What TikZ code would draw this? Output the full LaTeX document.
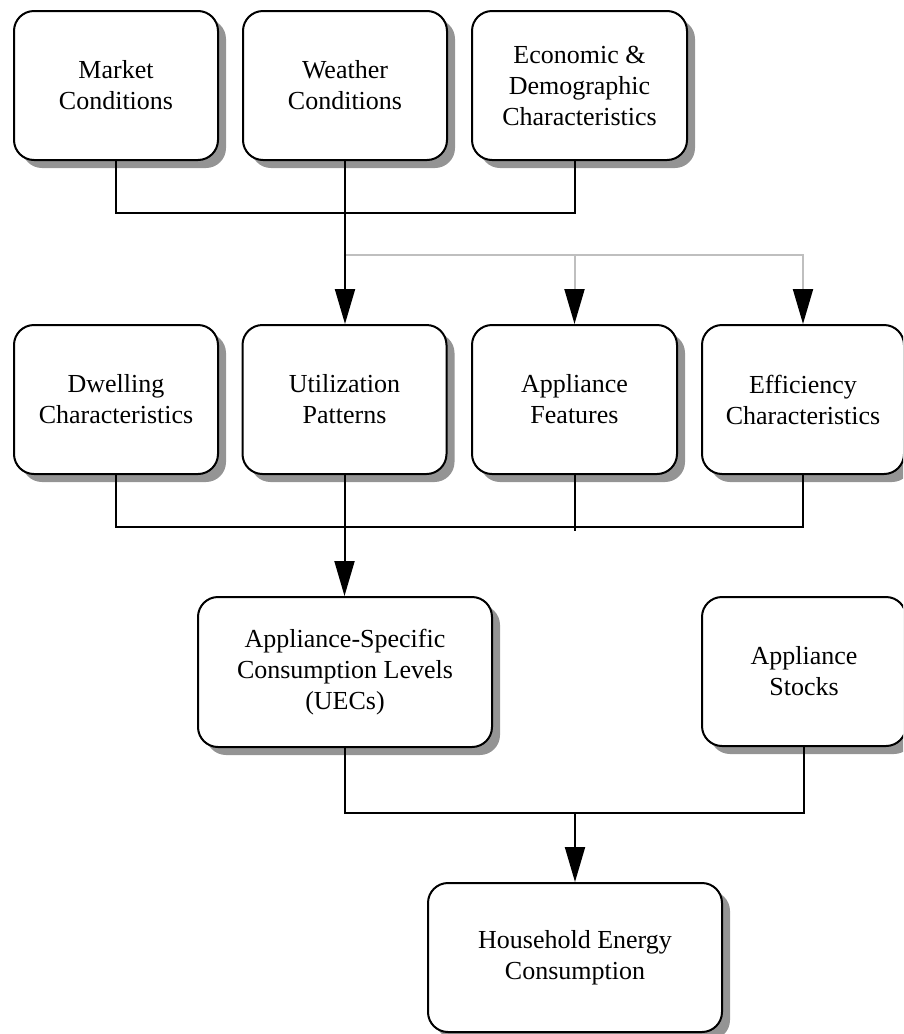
\documentclass[tikz,border=0pt]{standalone}
\usepackage{fontspec}
\setmainfont{Liberation Serif}
\usetikzlibrary{arrows.meta,shadows}

\begin{document}
\begin{tikzpicture}[x=1pt,y=-1pt,
	box/.style={draw,line width=2pt,rounded corners=20pt,fill=white,align=center,
		font=\fontsize{26}{31}\selectfont,minimum height=149pt,
		drop shadow={shadow xshift=8pt,shadow yshift=-8pt,fill=black!42,opacity=1}},
	link/.style={line width=2pt},
	tip/.style={link,-{Triangle[length=35pt,width=20pt,color=black]}},
	greytip/.style={tip,draw=black!25}]
	\clip (0,0) rectangle (903,1034);
	% top row
	\node[box,minimum width=204pt] (market) at (116,85.5) {Market\\Conditions};
	\node[box,minimum width=204pt] (weather) at (345,85.5) {Weather\\Conditions};
	\node[box,minimum width=215pt] (econ) at (579.5,85.5) {Economic \&\\Demographic\\Characteristics};
	% second row
	\node[box,minimum width=204pt] (dwell) at (116,399.5) {Dwelling\\Characteristics};
	\node[box,minimum width=204pt] (util) at (344.5,399.5) {Utilization\\Patterns};
	\node[box,minimum width=205pt] (feat) at (574.5,399.5) {Appliance\\Features};
	\node[box,minimum width=202pt] (eff) at (803,399.5) {Efficiency\\Characteristics};
	% third row
	\node[box,minimum width=294pt,minimum height=150pt] (uec) at (345,672) {Appliance-Specific\\Consumption Levels\\(UECs)};
	\node[box,minimum width=204pt] (stocks) at (804,671.5) {Appliance\\Stocks};
	% result
	\node[box,minimum width=294pt] (house) at (575,957.5) {Household Energy\\Consumption};

	\coordinate (hub1) at (345,213);
	\coordinate (split) at (345,255);
	\coordinate (hub2) at (345,527);
	\coordinate (hub3) at (345,813);

	\draw[link] (market.south) |- (hub1) -| (feat.north |- econ.south);
	\draw[greytip] (split) -| (eff.north);
	\draw[greytip] (split) -| (feat.north);
	\draw[tip] (weather.south) -- (weather.south |- util.north);

	\draw[link] (dwell.south) |- (hub2) -| (eff.south);
	\draw[link] (feat.south) -- ++(0,56);
	\draw[tip] (util.south) -- (util.south |- uec.north);

	\draw[link] (uec.south) |- (hub3) -| (stocks.south);
	\draw[tip] (house.north |- hub3) -- (house.north);
\end{tikzpicture}
\end{document}
